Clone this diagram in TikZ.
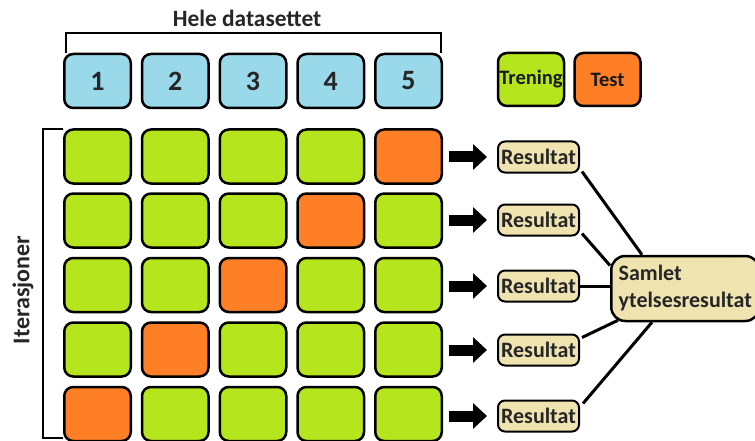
\documentclass[tikz,border=0pt]{standalone}
\usepackage{fontspec}
\setmainfont{Carlito}
\usetikzlibrary{arrows.meta,calc}
\definecolor{cblue}{HTML}{99D9EA}
\definecolor{cgreen}{HTML}{B5E61D}
\definecolor{corange}{HTML}{FF7F27}
\definecolor{ctan}{HTML}{EFE4B0}
\definecolor{ctext}{HTML}{262626}
\tikzset{
  cell/.style={draw=black, line width=2.5pt, rounded corners=9pt, minimum width=66.5pt, minimum height=54pt, inner sep=0pt},
  tr/.style={cell, fill=cgreen},
  te/.style={cell, fill=corange},
  numbox/.style={cell, fill=cblue, text=ctext, font=\fontsize{28}{30}\selectfont\bfseries},
  legbox/.style={cell, minimum width=66pt, minimum height=53pt, font=\fontsize{20.5}{24}\selectfont\bfseries, text=black!90},
  resbox/.style={draw=black, line width=2pt, rounded corners=7pt, fill=ctan, minimum width=81pt, minimum height=31pt, inner sep=0pt, text=ctext, font=\fontsize{22}{24}\selectfont\bfseries},
  sumbox/.style={draw=black, line width=2.5pt, rounded corners=14pt, fill=ctan, minimum width=148pt, minimum height=65pt, inner xsep=6pt, align=left, text=ctext, font=\fontsize{22}{27}\selectfont\bfseries},
  blockarrow/.style={line width=11pt, -{Triangle[length=14pt,width=25pt]}, shorten <=6pt, shorten >=10pt},
  link/.style={line width=3pt},
  bracket/.style={line width=2.5pt},
  lbl/.style={text=ctext, font=\fontsize{23.4}{26}\selectfont\bfseries}
}
\begin{document}
\begin{tikzpicture}[x=1pt,y=-1pt]
\useasboundingbox (0,0) rectangle (755,441);
% title and top bracket
\node[lbl] (title) at (247,18) {Hele datasettet};
\coordinate (tbl) at (66,53);
\coordinate (tbr) at (441,53);
\draw[bracket] (tbl) -- ++(0,-20) -| (tbr);
% numbered boxes
\foreach \i/\x in {1/97.5,2/175.25,3/253,4/330.75,5/408.5}{
  \node[numbox] (n\i) at (\x,81) {\i};
}
% legend
\node[legbox, fill=cgreen] (legtr) at (531,79.5) {Trening};
\node[legbox, fill=corange] (legte) at (607.5,79.5) {Test};
% grid
\foreach \r/\y in {1/156.5,2/220.5,3/285,4/349.5,5/414}{
  \foreach \c/\x in {1/97.5,2/175.25,3/253,4/330.75,5/408.5}{
    \pgfmathtruncatemacro{\s}{\r+\c}
    \ifnum\s=6
      \node[te] (c\r\c) at (\x,\y) {};
    \else
      \node[tr] (c\r\c) at (\x,\y) {};
    \fi
  }
}
% left bracket
\coordinate (lbt) at (63,129);
\coordinate (lbb) at (63,438);
\draw[bracket] (lbt) -- ++(-20,0) |- (lbb);
\node[lbl, rotate=90, font=\fontsize{24}{26}\selectfont\bfseries] (iter) at (23,290) {Iterasjoner};
% results
\foreach \r/\y in {1/157,2/220,3/286,4/350,5/416}{
  \node[resbox] (r\r) at (538.5,\y) {Resultat};
  \draw[blockarrow] (c\r5.east |- r\r.west) -- (r\r.west);
}
\node[sumbox, anchor=west] (s) at (610,288.5) {Samlet\\ytelsesresultat};
% links
\draw[link] ($(r1.south east)+(2,-2)$) -- ($(s.north west)+(32,0)$);
\draw[link] ($(r2.south east)+(2,-3)$) -- (s.163);
\draw[link] (r3.east) -- (r3.east -| s.west);
\draw[link] ($(r4.north east)+(2,4)$) -- ($(s.south west)+(8,-2)$);
\draw[link] ($(r5.north east)+(3,4)$) -- ($(s.south west)+(42,0)$);
\end{tikzpicture}
\end{document}
